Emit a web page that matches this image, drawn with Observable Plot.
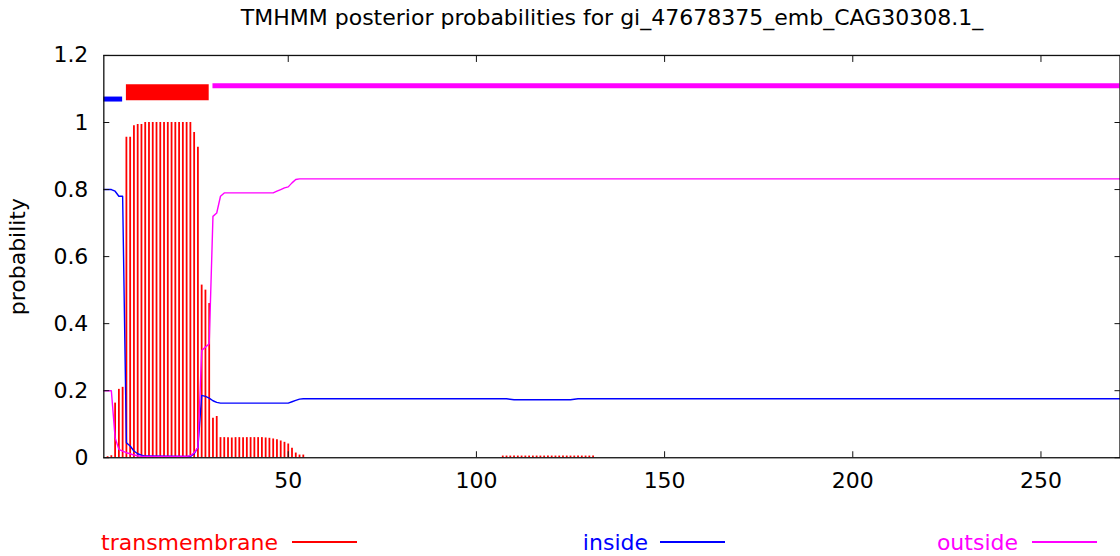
<!DOCTYPE html>
<html>
<head>
<meta charset="utf-8">
<script src="https://cdn.jsdelivr.net/npm/d3@7"></script>
<script src="https://cdn.jsdelivr.net/npm/@observablehq/plot@0.6"></script>
<style>
html, body { margin: 0; padding: 0; background: #fff; overflow: hidden; }
#wrap { position: relative; width: 1120px; height: 556px; overflow: hidden; font-family: "DejaVu Sans", sans-serif; color: #000; }
#title { position: absolute; left: 0; top: 7px; width: 1224px; text-align: center; font-size: 22px; line-height: 22px; white-space: nowrap; }
#chart { position: absolute; left: 0; top: 36px; }
.leg { position: absolute; top: 532px; font-size: 22px; line-height: 22px; white-space: nowrap; }
.legline { position: absolute; top: 541px; width: 65px; height: 2px; }
</style>
</head>
<body>
<div id="wrap">
  <div id="title"></div>
  <div id="chart"></div>
  <div id="legend"></div>
</div>
<script>
// ---- data ----
const chartTitle = "TMHMM posterior probabilities for gi_47678375_emb_CAG30308.1_";
const yLabel = "probability";
const seqLength = 271;
const xTicks = [50, 100, 150, 200, 250];
const yTicks = [0, 0.2, 0.4, 0.6, 0.8, 1, 1.2];

// transmembrane posterior (impulses), residue -> probability (zero residues omitted)
const tmResidue = [2, 3, 4, 5, 6, 7, 8, 9, 10, 11, 12, 13, 14, 15, 16, 17, 18, 19, 20, 21,
  22, 23, 24, 25, 26, 27, 28, 29, 30, 31, 32, 33, 34, 35, 36, 37, 38, 39, 40, 41,
  42, 43, 44, 45, 46, 47, 48, 49, 50, 51, 52, 53, 54,
  107, 108, 109, 110, 111, 112, 113, 114, 115, 116, 117, 118, 119, 120, 121, 122, 123,
  124, 125, 126, 127, 128, 129, 130, 131];
const tmProb = [0.003, 0.006, 0.163, 0.204, 0.21, 0.956, 0.956, 0.99, 0.994, 0.994, 1, 1, 1, 1, 1, 1, 1, 1, 1, 1,
  1, 1, 1, 0.97, 0.926, 0.515, 0.50, 0.46, 0.118, 0.123, 0.06, 0.06, 0.06, 0.059, 0.06, 0.06, 0.06, 0.06, 0.06, 0.06,
  0.06, 0.06, 0.059, 0.058, 0.056, 0.054, 0.05, 0.046, 0.041, 0.028, 0.014, 0.008, 0.008,
  0.005, 0.005, 0.005, 0.005, 0.005, 0.005, 0.005, 0.005, 0.005, 0.005, 0.005, 0.005, 0.005, 0.005, 0.005, 0.005, 0.005,
  0.005, 0.005, 0.005, 0.005, 0.005, 0.005, 0.005, 0.005];

// inside posterior (line), read at the points where the line bends
const insideResidue = [1, 2, 3, 4, 5, 6, 7, 8, 9, 10, 11, 12, 23, 24, 25, 26, 27, 28, 29, 30, 31, 32, 50, 51, 52, 53, 54, 108, 110, 125, 127, 271];
const insideProb = [0.80, 0.80, 0.80, 0.795, 0.78, 0.78, 0.045, 0.035, 0.02, 0.012, 0.008, 0.005, 0.004, 0.004, 0.012, 0.03, 0.186, 0.183, 0.178, 0.17, 0.165, 0.163, 0.163, 0.167, 0.171, 0.175, 0.176, 0.176, 0.173, 0.173, 0.176, 0.176];

// outside posterior (line)
const outsideResidue = [1, 2, 3, 4, 5, 6, 7, 8, 9, 10, 11, 23, 24, 25, 26, 27, 28, 29, 30, 31, 32, 33, 46, 47, 48, 49, 50, 51, 52, 53, 271];
const outsideProb = [0.20, 0.20, 0.20, 0.06, 0.025, 0.02, 0.015, 0.012, 0.008, 0.006, 0.004, 0.004, 0.006, 0.015, 0.03, 0.32, 0.33, 0.34, 0.72, 0.73, 0.78, 0.79, 0.79, 0.795, 0.80, 0.805, 0.808, 0.82, 0.83, 0.832, 0.832];

// predicted topology segments
const segType = ["inside", "TMhelix", "outside"];
const segStart = [1, 7, 30];
const segEnd = [6, 29, 271];

const legendLabels = ["transmembrane", "inside", "outside"];
const colors = {transmembrane: "#ff0000", inside: "#0000ff", outside: "#ff00ff"};

// ---- tables ----
const tm = tmResidue.map((r, i) => ({pos: r, p: tmProb[i]}));
const inside = insideResidue.map((r, i) => ({pos: r, p: insideProb[i]}));
const outside = outsideResidue.map((r, i) => ({pos: r, p: outsideProb[i]}));
const segs = segType.map((t, i) => ({type: t, start: segStart[i], end: segEnd[i]}));

document.getElementById("title").textContent = chartTitle;

const chart = Plot.plot({
  width: 1122,
  height: 480,
  marginLeft: 103.5,
  marginRight: 0.5,
  marginTop: 19,
  marginBottom: 58,
  style: {fontFamily: "DejaVu Sans, sans-serif", fontSize: "22px", color: "#000", background: "transparent"},
  x: {domain: [1, seqLength]},
  y: {domain: [0, 1.2]},
  marks: [
    Plot.ruleX(tm, {x: "pos", y: "p", stroke: colors.transmembrane, strokeWidth: 1.8}),
    Plot.line(inside, {x: "pos", y: "p", stroke: colors.inside, strokeWidth: 1.4}),
    Plot.line(outside, {x: "pos", y: "p", stroke: colors.outside, strokeWidth: 1.4}),
    Plot.ruleY(segs.filter(d => d.type === "inside"), {x1: "start", x2: "end", y: () => 1.07, stroke: colors.inside, strokeWidth: 5}),
    Plot.ruleY(segs.filter(d => d.type === "TMhelix"), {x1: "start", x2: "end", y: () => 1.09, stroke: colors.transmembrane, strokeWidth: 16}),
    Plot.ruleY(segs.filter(d => d.type === "outside"), {x1: "start", x2: "end", y: () => 1.11, stroke: colors.outside, strokeWidth: 5}),
    Plot.axisX(xTicks, {anchor: "bottom", tickSize: -6, tickPadding: 21, label: null, stroke: "#111"}),
    Plot.axisX(xTicks, {anchor: "top", tickSize: -6, tickFormat: () => "", label: null, stroke: "#111"}),
    Plot.axisY(yTicks, {anchor: "left", tickSize: -6, tickPadding: 21.5, tickFormat: d => String(d), label: yLabel, labelAnchor: "center", labelOffset: 95, labelArrow: "none", stroke: "#111"}),
    Plot.axisY(yTicks, {anchor: "right", tickSize: -6, tickFormat: () => "", label: null, stroke: "#111"}),
    Plot.frame({stroke: "#111", strokeWidth: 1.3})
  ]
});
document.getElementById("chart").appendChild(chart);

// ---- legend ----
const legendTextRight = [278, 648, 1018];
const legendLineLeft = [292, 660, 1032];
const leg = document.getElementById("legend");
legendLabels.forEach((lab, i) => {
  const t = document.createElement("div");
  t.className = "leg";
  t.textContent = lab;
  t.style.right = (1120 - legendTextRight[i]) + "px";
  t.style.color = colors[lab];
  leg.appendChild(t);
  const l = document.createElement("div");
  l.className = "legline";
  l.style.left = legendLineLeft[i] + "px";
  l.style.backgroundColor = colors[lab];
  leg.appendChild(l);
});
</script>
</body>
</html>
